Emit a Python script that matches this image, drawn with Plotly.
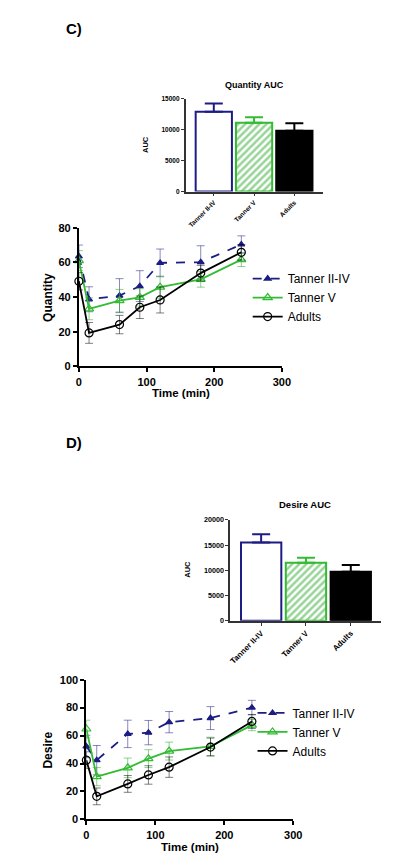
import plotly.graph_objects as go

# ---------------- data ----------------
time_min = [0, 15, 60, 90, 120, 180, 240]
groups = ["Tanner II-IV", "Tanner V", "Adults"]

q_t24 = [63.5, 38.7, 40.8, 46.3, 59.7, 60.1, 70.3]
q_t24_err = [6.5, 7.2, 9.8, 8.9, 8.0, 9.5, 5.0]
q_t5 = [61.0, 33.2, 37.9, 39.8, 45.7, 50.2, 61.6]
q_t5_err = [5.8, 6.3, 6.5, 5.0, 6.4, 4.5, 4.0]
q_ad = [49.1, 19.3, 24.1, 34.1, 38.3, 53.8, 65.8]
q_ad_err = [5.0, 6.0, 5.3, 6.5, 7.5, 4.5, 4.5]

d_t24 = [52.2, 42.4, 61.2, 62.1, 69.6, 72.5, 80.0]
d_t24_err = [8.0, 10.5, 9.8, 8.7, 7.6, 8.2, 5.2]
d_t5 = [64.7, 30.6, 36.9, 43.5, 48.9, 52.2, 67.5]
d_t5_err = [6.3, 6.5, 7.0, 6.4, 6.4, 6.6, 4.0]
d_ad = [42.4, 16.5, 25.4, 31.8, 37.4, 51.8, 70.1]
d_ad_err = [6.0, 6.0, 6.0, 6.6, 7.3, 6.4, 5.0]

q_auc = [12925, 11120, 9840]
q_auc_err = [1325, 900, 1220]
d_auc = [15505, 11531, 9707]
d_auc_err = [1630, 977, 1368]

# ---------------- layout helpers ----------------
W, H = 400, 868
def fx(p):
    return p / W
def fy(p):
    return 1 - p / H

NAVY = "#1c1c84"
GREEN = "#33bb33"
BLACK = "#000000"
FONT = "Liberation Sans"

fig = go.Figure()

# ---------------- bar charts ----------------
bar_style = [
    dict(color="white", line=dict(color=NAVY, width=2)),
    dict(color="white", line=dict(color=GREEN, width=2),
         pattern=dict(shape="/", fgcolor="#2faa2f", bgcolor="white", size=5, solidity=0.5)),
    dict(color=BLACK, line=dict(color=BLACK, width=2)),
]
bar_err_col = [NAVY, GREEN, BLACK]

for vals, errs, xa, ya in [(q_auc, q_auc_err, "x", "y"), (d_auc, d_auc_err, "x3", "y3")]:
    for i, g in enumerate(groups):
        fig.add_trace(go.Bar(
            x=[g], y=[vals[i]], width=0.9, xaxis=xa, yaxis=ya,
            marker=bar_style[i], showlegend=False,
            error_y=dict(type="data", symmetric=False, array=[errs[i]], arrayminus=[0],
                         color=bar_err_col[i], thickness=2, width=9),
        ))

# ---------------- line charts ----------------
series = [
    ("Tanner II-IV", NAVY, "dash", "triangle-up", "rgba(40,40,140,0.55)"),
    ("Tanner V", GREEN, "solid", "triangle-up-open", "rgba(50,170,50,0.55)"),
    ("Adults", BLACK, "solid", "circle-open", "rgba(0,0,0,0.5)"),
]
for data, xa, ya, lg in [
    ([(q_t24, q_t24_err), (q_t5, q_t5_err), (q_ad, q_ad_err)], "x2", "y2", "legend"),
    ([(d_t24, d_t24_err), (d_t5, d_t5_err), (d_ad, d_ad_err)], "x4", "y4", "legend2"),
]:
    for (name, col, dash, sym, ecol), (vals, errs) in zip(series, data):
        fig.add_trace(go.Scatter(
            x=time_min, y=vals, name=name, xaxis=xa, yaxis=ya, legend=lg,
            mode="lines+markers", cliponaxis=False,
            line=dict(color=col, width=1.8, dash=dash),
            marker=dict(symbol=sym, size=8 if sym != "triangle-up" else 6,
                        color=col, line=dict(color=col, width=1.2)),
            error_y=dict(type="data", array=errs, color=ecol, thickness=1, width=4),
        ))

line_tick = dict(family=FONT, size=11, color="black", weight="bold")

def bar_axes(xd, yd, yrange, dtick, tsize, xtsize):
    xa = dict(domain=[fx(xd[0]), fx(xd[1])], type="category", categoryorder="array",
              categoryarray=groups, showline=True, linecolor="#333",
              linewidth=1.5, ticks="outside", ticklen=3, tickwidth=1.2, tickcolor="#333",
              tickangle=-45,
              tickfont=dict(family=FONT, size=xtsize, color="black", weight="bold"),
              showgrid=False, zeroline=False, fixedrange=True)
    ya = dict(domain=[fy(yd[1]), fy(yd[0])], range=yrange, dtick=dtick, showline=True,
              tickformat="d",
              linecolor="#333", linewidth=1.5, ticks="outside", ticklen=3, tickwidth=1.2,
              tickcolor="#333",
              tickfont=dict(family=FONT, size=tsize, color="black", weight="bold"),
              showgrid=False, zeroline=False)
    return xa, ya

def line_axes(xd, yd, yrange, dtick):
    xa = dict(domain=[fx(xd[0]), fx(xd[1])], range=[0, 300], dtick=100, showline=True,
              linecolor="black", linewidth=2, ticks="outside", ticklen=4, tickwidth=2,
              tickcolor="black", tickfont=line_tick, showgrid=False, zeroline=False)
    ya = dict(domain=[fy(yd[1]), fy(yd[0])], range=yrange, dtick=dtick, showline=True,
              linecolor="black", linewidth=2, ticks="outside", ticklen=4, tickwidth=2,
              tickcolor="black", tickfont=line_tick, showgrid=False, zeroline=False)
    return xa, ya

x1, y1 = bar_axes((180, 322), (86, 180), [0, 15000], 5000, 6.5, 6.5)
x2, y2 = line_axes((70, 279.3), (216.7, 357.3), [0, 80], 20)
x3, y3 = bar_axes((226, 381.7), (513, 615.3), [0, 20000], 5000, 7.2, 8)
x4, y4 = line_axes((77.7, 291), (675, 816.7), [0, 100], 20)
x1["range"] = [-0.7, 2.72]
x3["range"] = [-0.69, 2.68]

y1["anchor"] = "x"; x1["anchor"] = "y"
x2["anchor"] = "y2"; y2["anchor"] = "x2"
x3["anchor"] = "y3"; y3["anchor"] = "x3"
x4["anchor"] = "y4"; y4["anchor"] = "x4"

def ann(text, px, py, size, bold=True, angle=0):
    return dict(text=text, x=fx(px), y=fy(py), xref="paper", yref="paper",
                showarrow=False, textangle=angle, xanchor="center", yanchor="middle",
                font=dict(family=FONT, size=size, color="black",
                          weight="bold" if bold else "normal"))

annotations = [
    ann("C)", 65, 15, 15),
    ann("D)", 65, 435, 15),
    ann("Quantity AUC", 251, 72, 9),
    ann("Desire AUC", 303, 497, 9.5),
    ann("AUC", 138, 132, 7.5, angle=-90),
    ann("AUC", 182, 563, 7.5, angle=-90),
    ann("Quantity", 38, 287, 12, angle=-90),
    ann("Desire", 38, 746, 12, angle=-90),
    ann("Time (min)", 175, 384, 11.5),
    ann("Time (min)", 185, 845, 11.5),
]

legend_font = dict(family=FONT, size=12, color="black")
fig.update_layout(
    width=W, height=H, margin=dict(l=0, r=0, t=0, b=0),
    paper_bgcolor="white", plot_bgcolor="white", barmode="overlay",
    xaxis=x1, yaxis=y1, xaxis2=x2, yaxis2=y2, xaxis3=x3, yaxis3=y3,
    xaxis4=x4, yaxis4=y4,
    annotations=annotations,
    legend=dict(x=fx(244), y=fy(287.5), xanchor="left", yanchor="middle",
                font=legend_font, bgcolor="rgba(0,0,0,0)", tracegroupgap=0),
    legend2=dict(x=fx(249), y=fy(728), xanchor="left", yanchor="middle",
                 font=legend_font, bgcolor="rgba(0,0,0,0)", tracegroupgap=0),
    showlegend=True,
)

fig.write_html("out.html")
